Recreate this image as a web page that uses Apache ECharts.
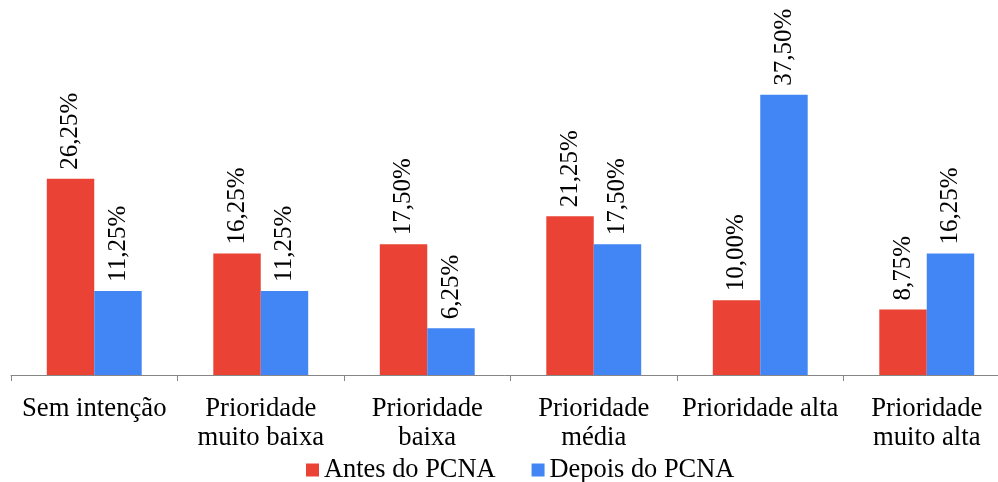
<!DOCTYPE html>
<html>
<head>
<meta charset="utf-8">
<script src="https://cdn.jsdelivr.net/npm/echarts@6/dist/echarts.min.js"></script>
<style>html,body{margin:0;padding:0;background:#fff;}#c{width:998px;height:482px;}</style>
</head>
<body>
<div id="c"></div>
<script>
const categories = ["Sem intenção", "Prioridade\nmuito baixa", "Prioridade\nbaixa", "Prioridade\nmédia", "Prioridade alta", "Prioridade\nmuito alta"];
const seriesNames = ["Antes do PCNA", "Depois do PCNA"];
const antes = [26.25, 16.25, 17.50, 21.25, 10.00, 8.75];
const depois = [11.25, 11.25, 6.25, 17.50, 37.50, 16.25];
const colors = ["#EA4335", "#4285F4"];

const font = "'Liberation Serif', 'Times New Roman', serif";
const fmt = p => p.value.toFixed(2).replace('.', ',') + '%';
const labelCfg = {
  show: true, position: 'top', rotate: 90, align: 'left', verticalAlign: 'middle',
  distance: 9, formatter: fmt, fontFamily: font, fontSize: 25, color: '#000'
};
const chart = echarts.init(document.getElementById('c'));
chart.setOption({
  animation: false,
  color: colors,
  grid: { left: 11, width: 999, top: 76, bottom: 107, containLabel: false, outerBoundsMode: 'none' },
  legend: {
    left: 301, top: 452, itemWidth: 13, itemHeight: 13, itemGap: 36,
    icon: 'rect',
    textStyle: { fontFamily: font, fontSize: 26.4, color: '#000' },
    data: seriesNames
  },
  xAxis: {
    type: 'category', data: categories,
    axisLine: { lineStyle: { color: '#868686', width: 1 } },
    axisTick: { show: true, length: 6, alignWithLabel: false, lineStyle: { color: '#868686' } },
    axisLabel: { interval: 0, margin: 19, fontFamily: font, fontSize: 26.7, color: '#000', lineHeight: 29 }
  },
  yAxis: { type: 'value', min: 0, max: 40, show: false, splitLine: { show: false } },
  series: [
    { name: seriesNames[0], type: 'bar', data: antes, barGap: '0%', barCategoryGap: '43%', label: labelCfg },
    { name: seriesNames[1], type: 'bar', data: depois, barGap: '0%', barCategoryGap: '43%', label: labelCfg }
  ]
});
</script>
</body>
</html>
